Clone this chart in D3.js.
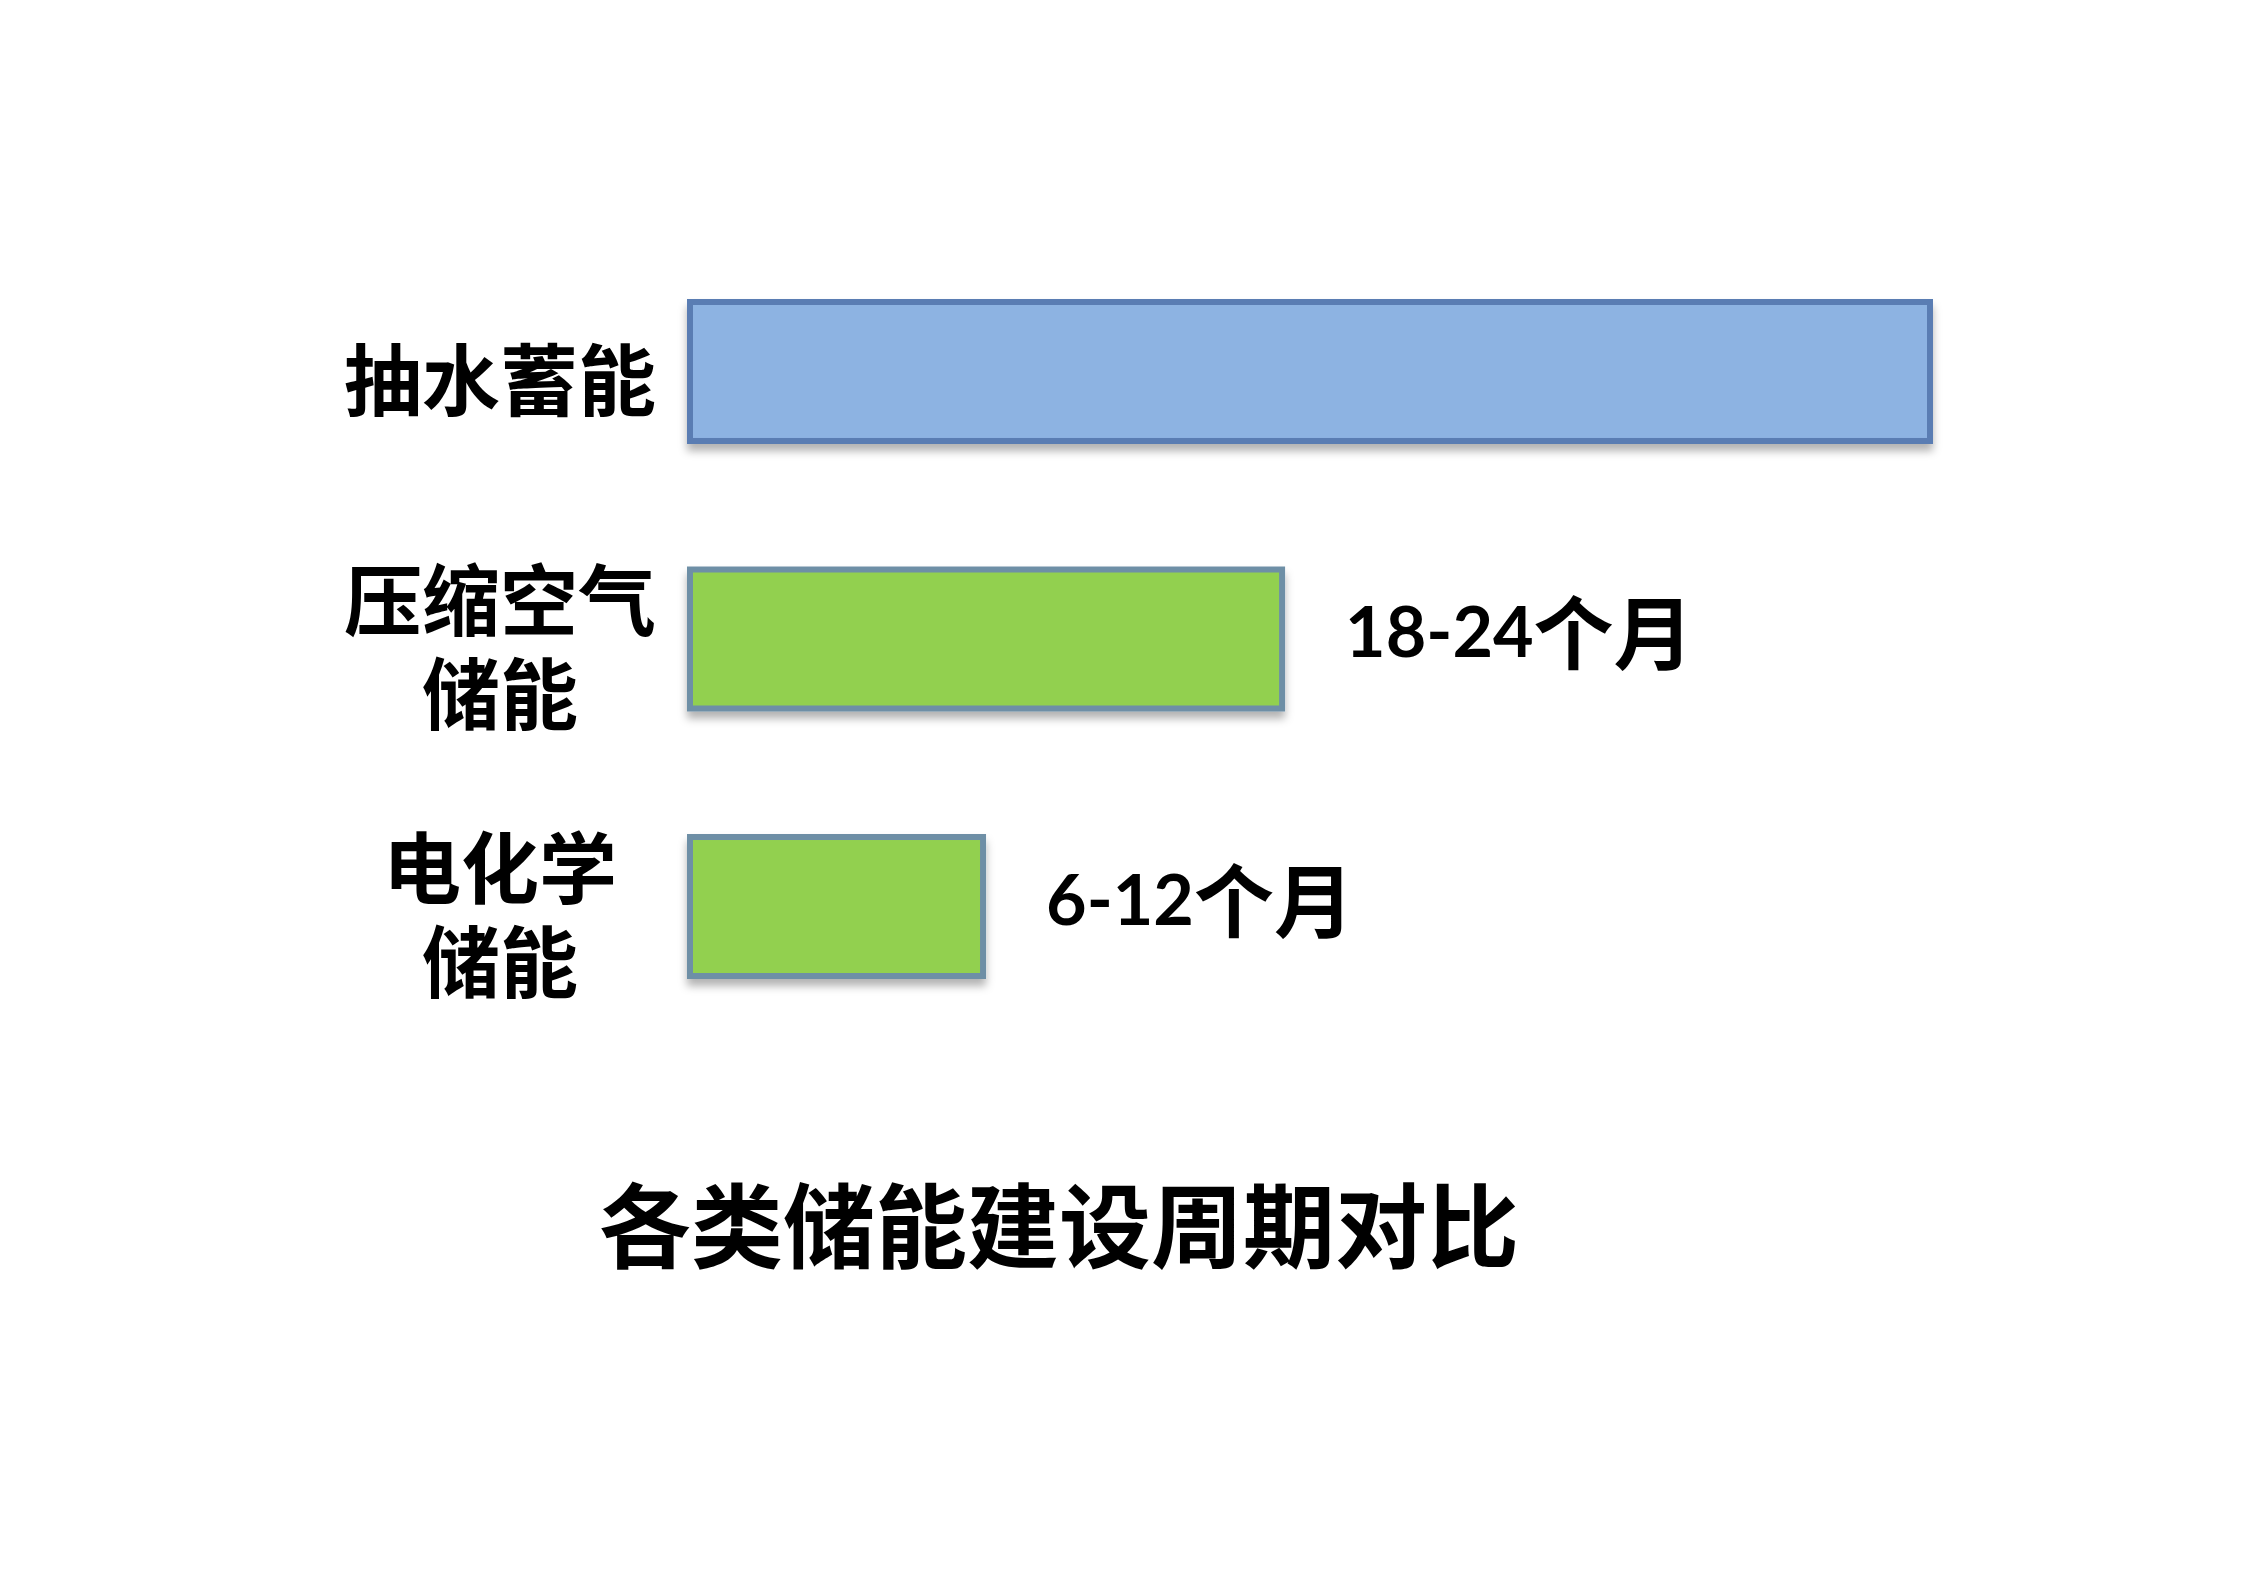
<!DOCTYPE html>
<meta charset="utf-8">
<head>
    <script src="https://d3js.org/d3.v7.min.js"></script>
    <style>
        body { margin: 0; background: white; }
    </style>
</head>
<body>
<div id="chart"></div>

<script>
    // categories (label lines), values in months, value labels
    const categories = ["抽水蓄能", "压缩空气储能", "电化学储能"];
    const labelLines = [["抽水蓄能"], ["压缩空气", "储能"], ["电化学", "储能"]];
    const months = [50, 24, 12];
    const valueLabels = ["", "18-24", "6-12"];
    const unitLabel = "个月";
    const barColors = ["#8db3e2", "#92d050", "#92d050"];
    const strokeColors = ["#5a7db3", "#6e8fa6", "#6e8fa6"];
    const title = "各类储能建设周期对比";

    const width = 2245, height = 1587;
    const cjk = "'Noto Sans CJK SC', 'Noto Sans', sans-serif";

    const svg = d3.select("#chart").append("svg")
        .attr("width", width)
        .attr("height", height)
        .style("background-color", "white");

    // soft shadow under the bars
    const filter = svg.append("defs").append("filter")
        .attr("id", "shadow")
        .attr("x", "-5%").attr("y", "-20%")
        .attr("width", "110%").attr("height", "150%");
    filter.append("feDropShadow")
        .attr("dx", 0)
        .attr("dy", 7)
        .attr("stdDeviation", 4)
        .attr("flood-color", "#000")
        .attr("flood-opacity", 0.3);

    const x = d3.scaleLinear()
        .domain([0, 50])
        .range([687, 1933]);

    const y = d3.scaleBand()
        .domain(categories)
        .range([299, 979])
        .paddingInner(0.458)
        .paddingOuter(0);

    const sw = 6;

    svg.selectAll("rect.bar")
        .data(categories)
        .enter()
        .append("rect")
        .attr("class", "bar")
        .attr("x", x(0) + sw / 2)
        .attr("y", d => y(d) + sw / 2)
        .attr("width", (d, i) => x(months[i]) - x(0) - sw)
        .attr("height", y.bandwidth() - sw)
        .attr("fill", (d, i) => barColors[i])
        .attr("stroke", (d, i) => strokeColors[i])
        .attr("stroke-width", sw)
        .attr("filter", "url(#shadow)");

    // category labels, centred left of the bars (one text, a tspan per line)
    const lineH = 94;
    categories.forEach((c, i) => {
        const lines = labelLines[i];
        const mid = y(c) + y.bandwidth() / 2 + 10;
        const t = svg.append("text")
            .attr("text-anchor", "middle")
            .style("font-family", cjk)
            .style("font-weight", "bold")
            .style("font-size", "78px")
            .attr("fill", "#000");
        lines.forEach((s, j) => {
            t.append("tspan")
                .attr("x", 500)
                .attr("y", mid + (j - (lines.length - 1) / 2) * lineH)
                .attr("dy", "0.36em")
                .text(s);
        });
    });

    // value labels to the right of the bars
    categories.forEach((c, i) => {
        if (!valueLabels[i]) return;
        const t = svg.append("text")
            .attr("x", x(months[i]) + 60)
            .attr("y", y(c) + y.bandwidth() / 2 + 18)
            .attr("fill", "#000")
            .style("font-weight", "bold");
        t.append("tspan")
            .style("font-family", "Lato, 'Open Sans', sans-serif")
            .style("font-size", "70px")
            .text(valueLabels[i]);
        t.append("tspan")
            .style("font-family", cjk)
            .style("font-size", "80px")
            .attr("dy", 6)
            .text(unitLabel);
    });

    svg.append("text")
        .attr("x", 1059)
        .attr("y", 1228)
        .attr("dy", "0.36em")
        .attr("text-anchor", "middle")
        .style("font-family", cjk)
        .style("font-weight", "bold")
        .style("font-size", "92px")
        .attr("fill", "#000")
        .text(title);
</script>
</body>
